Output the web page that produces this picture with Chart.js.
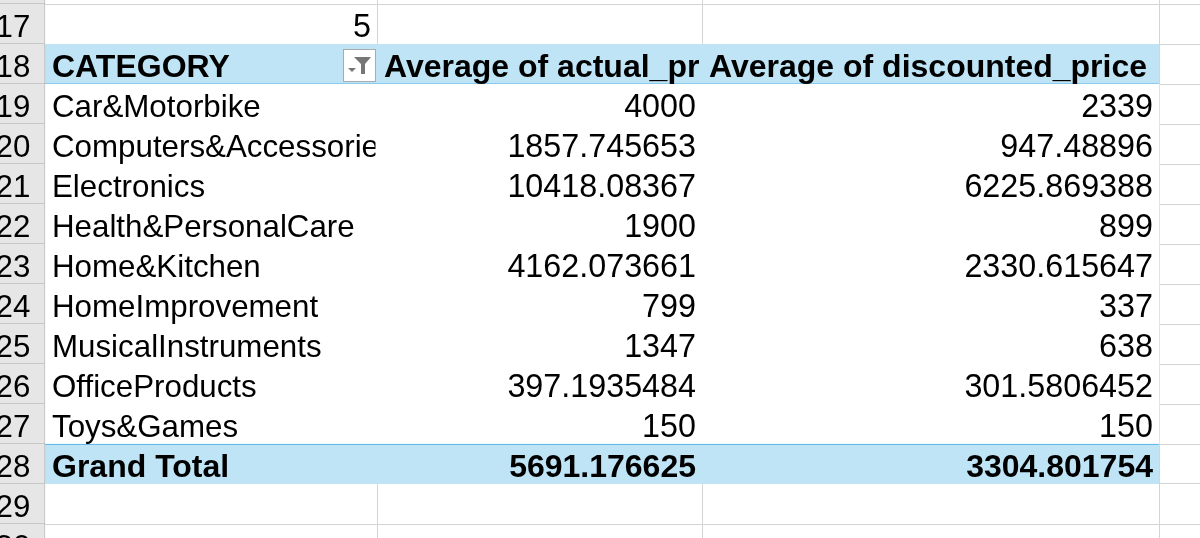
<!DOCTYPE html>
<html>
<head>
<meta charset="utf-8">
<script src="https://cdn.jsdelivr.net/npm/chart.js@4.4.0/dist/chart.umd.min.js"></script>
<style>
  html, body { margin: 0; padding: 0; background: #fff; }
  #wrap { width: 1200px; height: 538px; position: relative; }
</style>
</head>
<body>
<div id="wrap"><canvas id="sheet"></canvas></div>
<script>
// --- sheet content ---
const rowNumbers = [16, 17, 18, 19, 20, 21, 22, 23, 24, 25, 26, 27, 28, 29, 30];
const cellAbove = '5'; // row 17, column A
const headers = ['CATEGORY', 'Average of actual_price', 'Average of discounted_price'];
const categories = [
  'Car&Motorbike', 'Computers&Accessories', 'Electronics', 'Health&PersonalCare',
  'Home&Kitchen', 'HomeImprovement', 'MusicalInstruments', 'OfficeProducts', 'Toys&Games'
];
const avgActualPrice = [4000, 1857.745653, 10418.08367, 1900, 4162.073661, 799, 1347, 397.1935484, 150];
const avgDiscountedPrice = [2339, 947.48896, 6225.869388, 899, 2330.615647, 337, 638, 301.5806452, 150];
const totalLabel = 'Grand Total';
const grandTotal = [5691.176625, 3304.801754];

// --- layout of the sheet ---
const headerRow = 18;
const totalRow = headerRow + categories.length + 1;
const pivotRows = rowNumbers.filter(r => r >= headerRow && r <= totalRow);
const rowHeaderWidth = 45;
const colWidths = [332, 325, 457];
const colEdges = [rowHeaderWidth];
colWidths.forEach(w => colEdges.push(colEdges[colEdges.length - 1] + w));

const FONT = '"Liberation Sans", Arial, sans-serif';
const TEXT_FONT = '31.3px ' + FONT;
const NUM_FONT = '32.3px ' + FONT;
const BOLD_FONT = 'bold 32px ' + FONT;
const BAND = '#bee4f5';
const BAND_LINE = '#45ade3';

const cellText = {
  id: 'cellText',
  afterDatasetsDraw(chart) {
    const { ctx, scales: { x, y } } = chart;
    const top = r => y.getPixelForValue(r - 0.5);
    const base = r => y.getPixelForValue(r) + 12.7;
    const edge = i => x.getPixelForValue(colEdges[i]);

    const put = (txt, r, col, align, font) => {
      const l = edge(col), rr = edge(col + 1);
      ctx.save();
      ctx.beginPath();
      // cell interior, the gridline pixel on the right is not part of it
      ctx.rect(l, top(r), rr - l - 1.5, top(r + 1) - top(r));
      ctx.clip();
      ctx.font = font;
      ctx.fillStyle = '#000';
      ctx.textBaseline = 'alphabetic';
      ctx.textAlign = align;
      ctx.fillText(txt, align === 'left' ? l + 7 : rr - 6, base(r));
      ctx.restore();
    };

    // row numbers
    ctx.save();
    ctx.font = TEXT_FONT;
    ctx.fillStyle = '#000';
    ctx.textAlign = 'center';
    rowNumbers.forEach(r => ctx.fillText(String(r), x.getPixelForValue(13), base(r)));
    ctx.restore();

    put(cellAbove, headerRow - 1, 0, 'right', NUM_FONT);
    headers.forEach((h, i) => put(h, headerRow, i, 'left', BOLD_FONT));
    categories.forEach((c, i) => {
      const r = headerRow + 1 + i;
      put(c, r, 0, 'left', TEXT_FONT);
      put(String(avgActualPrice[i]), r, 1, 'right', NUM_FONT);
      put(String(avgDiscountedPrice[i]), r, 2, 'right', NUM_FONT);
    });
    put(totalLabel, totalRow, 0, 'left', BOLD_FONT);
    put(String(grandTotal[0]), totalRow, 1, 'right', BOLD_FONT);
    put(String(grandTotal[1]), totalRow, 2, 'right', BOLD_FONT);

    // filter button in the header cell
    const bx1 = edge(1) - 1, bx0 = bx1 - 33;
    const by0 = top(headerRow) + 5, by1 = top(headerRow + 1) - 2;
    ctx.save();
    ctx.fillStyle = '#fff';
    ctx.fillRect(bx0, by0, bx1 - bx0, by1 - by0);
    ctx.strokeStyle = '#ababab';
    ctx.lineWidth = 1;
    ctx.strokeRect(bx0 + 0.5, by0 + 0.5, bx1 - bx0 - 1, by1 - by0 - 1);
    ctx.fillStyle = '#767676';
    ctx.beginPath();
    ctx.moveTo(bx0 + 11, by0 + 8);
    ctx.lineTo(bx0 + 28, by0 + 8);
    ctx.lineTo(bx0 + 22, by0 + 15);
    ctx.lineTo(bx0 + 22, by0 + 25);
    ctx.lineTo(bx0 + 18, by0 + 25);
    ctx.lineTo(bx0 + 18, by0 + 15);
    ctx.closePath();
    ctx.fill();
    ctx.beginPath();
    ctx.moveTo(bx0 + 5, by0 + 19);
    ctx.lineTo(bx0 + 13, by0 + 19);
    ctx.lineTo(bx0 + 9, by0 + 23);
    ctx.closePath();
    ctx.fill();
    ctx.restore();
  }
};

new Chart(document.getElementById('sheet'), {
  type: 'bar',
  data: {
    datasets: [
      {
        // row header column
        data: rowNumbers.map(r => ({ x: [0, rowHeaderWidth], y: r })),
        backgroundColor: '#e6e6e6',
        borderColor: '#bdbdbd',
        borderWidth: { bottom: 1, right: 1 },
        borderSkipped: false,
        grouped: false,
        barPercentage: 1,
        categoryPercentage: 1
      },
      {
        // pivot table fill
        data: pivotRows.map(r => ({ x: [colEdges[0], colEdges[colEdges.length - 1]], y: r })),
        backgroundColor: pivotRows.map(r => (r === headerRow || r === totalRow) ? BAND : '#fff'),
        borderColor: BAND_LINE,
        borderWidth: ctx => {
          const r = pivotRows[ctx.dataIndex];
          if (r === headerRow) return { bottom: 1 };
          if (r === totalRow) return { top: 1 };
          return 0;
        },
        borderSkipped: false,
        grouped: false,
        barPercentage: 1,
        categoryPercentage: 1
      }
    ]
  },
  options: {
    indexAxis: 'y',
    responsive: true,
    maintainAspectRatio: false,
    animation: false,
    events: [],
    layout: { padding: 0 },
    plugins: { legend: { display: false }, tooltip: { enabled: false } },
    scales: {
      x: {
        type: 'linear',
        min: 0,
        max: 1200,
        offset: false,
        afterBuildTicks: s => { s.ticks = colEdges.slice(1).map(v => ({ value: v })); },
        ticks: { display: false },
        border: { display: false },
        grid: { drawTicks: false, color: '#d4d4d4', lineWidth: 1 }
      },
      y: {
        type: 'linear',
        reverse: true,
        min: 16.4,
        max: 29.85,
        offset: false,
        afterBuildTicks: s => { s.ticks = rowNumbers.slice(1).map(v => ({ value: v })); },
        ticks: { display: false },
        border: { display: false },
        grid: { drawTicks: false, offset: true, color: '#d4d4d4', lineWidth: 1 }
      }
    }
  },
  plugins: [cellText]
});
</script>
</body>
</html>
